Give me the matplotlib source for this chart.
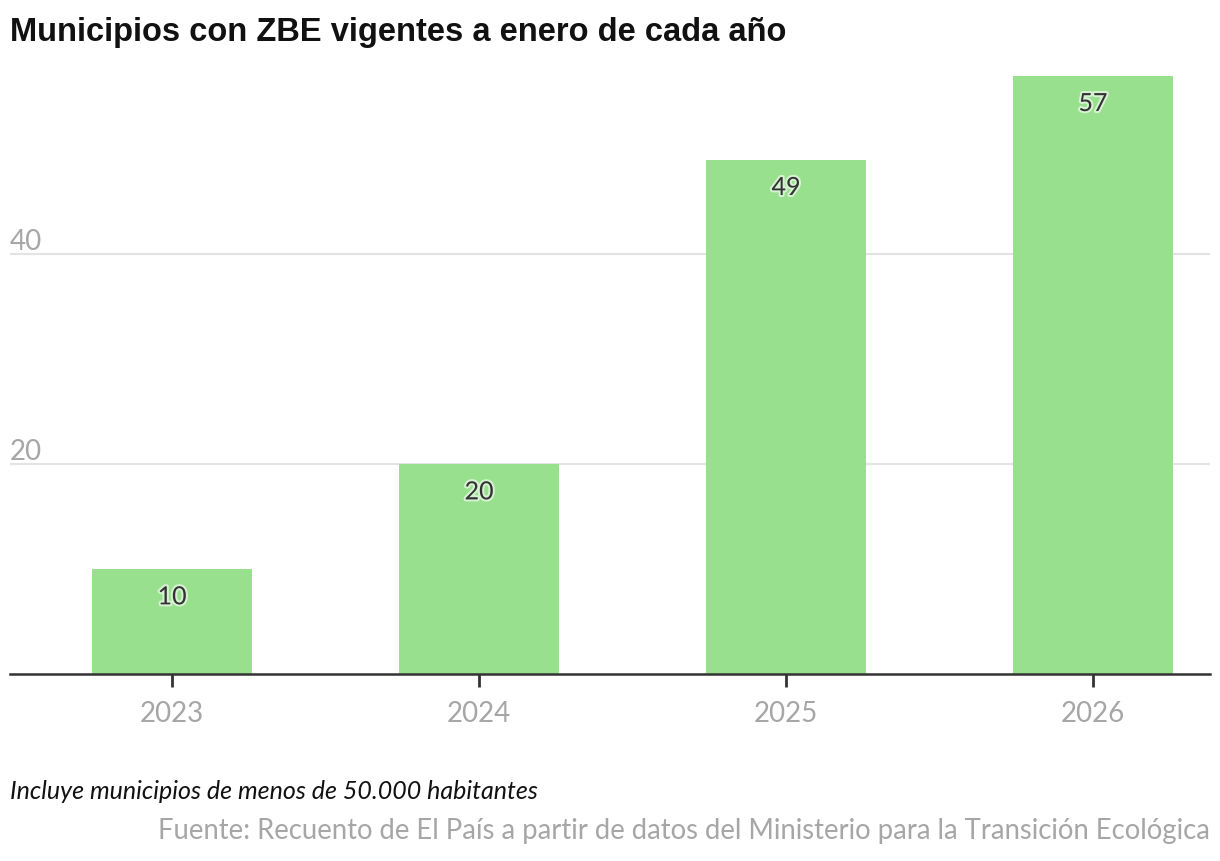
import matplotlib.pyplot as plt
import matplotlib.patheffects as pe
import numpy as np

years = ["2023", "2024", "2025", "2026"]
municipios = [10, 20, 49, 57]
y_ticks = [20, 40]

title = "Municipios con ZBE vigentes a enero de cada año"
note = "Incluye municipios de menos de 50.000 habitantes"
source = "Fuente: Recuento de El País a partir de datos del Ministerio para la Transición Ecológica"

bar_color = "#98e08e"
grey = "#a6a6a6"

fig = plt.figure(figsize=(12.2, 8.62), dpi=100)
ax = fig.add_axes([10 / 1220, 1 - 675 / 862, 1200 / 1220, 614 / 862])

x = np.arange(len(years))
ax.bar(x, municipios, width=0.52, color=bar_color, zorder=2)

# value labels inside bar tops, light halo
for xi, v in zip(x, municipios):
    ax.annotate(str(v), (xi, v), xytext=(0, -20), textcoords="offset points",
                ha="center", va="center", fontsize=18, family="Lato",
                color="#333333", zorder=3,
                path_effects=[pe.withStroke(linewidth=3, foreground="white", alpha=0.6)])

ax.set_xlim(-0.528, 3.381)
ax.set_ylim(0, 58.5)

for t in y_ticks:
    ax.axhline(t, color="#e3e3e3", lw=1.5, zorder=1)
    ax.text(0, t, str(t), transform=ax.get_yaxis_transform(), ha="left",
            va="bottom", fontsize=20, family="Lato", color=grey)
ax.set_yticks([])

ax.set_xticks(x)
ax.set_xticklabels(years, fontsize=20, family="Lato", color=grey)
ax.tick_params(axis="x", length=9, width=2, color="#333333", pad=10)

for s in ["top", "right", "left"]:
    ax.spines[s].set_visible(False)
ax.spines["bottom"].set_color("#333333")
ax.spines["bottom"].set_linewidth(1.8)

fig.text(10 / 1220, 1 - 33 / 862, title, ha="left", va="center", fontsize=23.5,
         fontweight="bold", family=["Liberation Sans", "DejaVu Sans"],
         color="#111111")
fig.text(10 / 1220, 1 - 792 / 862, note, ha="left", va="center", fontsize=18,
         style="italic", family="Lato", color="#111111")
fig.text(1210 / 1220, 1 - 831 / 862, source, ha="right", va="center", fontsize=19.8,
         family="Lato", color=grey)

fig.savefig("out.png", dpi=100)
